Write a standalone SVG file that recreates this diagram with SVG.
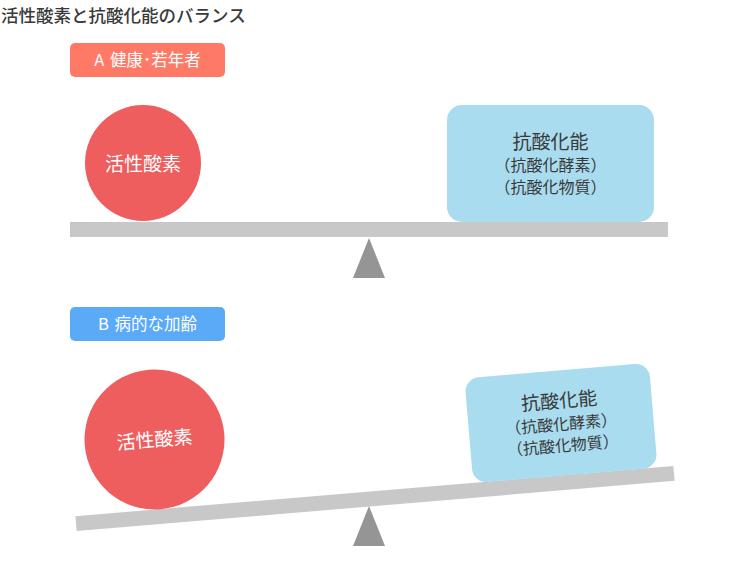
<svg xmlns="http://www.w3.org/2000/svg" width="740" height="580" viewBox="0 0 740 580">
<style>
text { font-family: "Noto Sans CJK JP", "Noto Sans", sans-serif; }
.title { font-size: 17.5px; font-weight: 500; fill: #3a3a3a; }
.tag { font-size: 16.5px; fill: #fff; text-anchor: middle; word-spacing: 2px; }
.ball { fill: #EE5E5E; }
.balltxt { font-size: 19px; fill: #fff; text-anchor: middle; }
.box { fill: #A9DCEF; }
.boxtxt1 { font-size: 19px; fill: #3a3a3a; text-anchor: middle; }
.boxtxt2 { font-size: 16px; fill: #3a3a3a; text-anchor: middle; }
.beam { fill: #C8C8C8; }
.pivot { fill: #959595; }
</style>
<rect width="740" height="580" fill="#fff"/>
<text class="title" x="1" y="21.5">活性酸素と抗酸化能のバランス</text>

<g id="tagA">
<rect x="70" y="43" width="155" height="34" rx="5" fill="#FF7A66"/>
<text class="tag" x="147.5" y="66">A 健康･若年者</text>
</g>

<g id="balanceA">
<rect class="beam" x="70" y="222" width="598" height="15"/>
<polygon class="pivot" points="369,238 385,278 353,278"/>
</g>
<g id="ballA">
<circle class="ball" cx="143" cy="163" r="58"/>
<text class="balltxt" x="143" y="171">活性酸素</text>
</g>
<g id="boxA">
<rect class="box" x="447" y="105" width="207" height="117" rx="15"/>
<text class="boxtxt1" x="550.5" y="149">抗酸化能</text>
<text class="boxtxt2" x="550.5" y="171">（抗酸化酵素）</text>
<text class="boxtxt2" x="550.5" y="193">（抗酸化物質）</text>
</g>

<g id="tagB">
<rect x="70" y="307" width="155" height="34" rx="5" fill="#5AAAF7"/>
<text class="tag" x="147.5" y="330">B 病的な加齢</text>
</g>

<g id="balanceB">
<rect class="beam" x="-300" y="-7.5" width="600" height="15" transform="translate(375,498.5) rotate(-4.8)"/>
<polygon class="pivot" points="369,506 385,546 353,546"/>
</g>
<g id="ballB" transform="translate(154.5,439.5) rotate(-4.8)">
<circle class="ball" cx="0" cy="0" r="70"/>
<text class="balltxt" x="0" y="7">活性酸素</text>
</g>
<g id="boxB" transform="translate(561,423) rotate(-4.8)">
<rect class="box" x="-92.5" y="-52.5" width="185" height="105" rx="14"/>
<text class="boxtxt1" x="0" y="-15.5">抗酸化能</text>
<text class="boxtxt2" x="0" y="7">（抗酸化酵素）</text>
<text class="boxtxt2" x="0" y="28.5">（抗酸化物質）</text>
</g>
</svg>
